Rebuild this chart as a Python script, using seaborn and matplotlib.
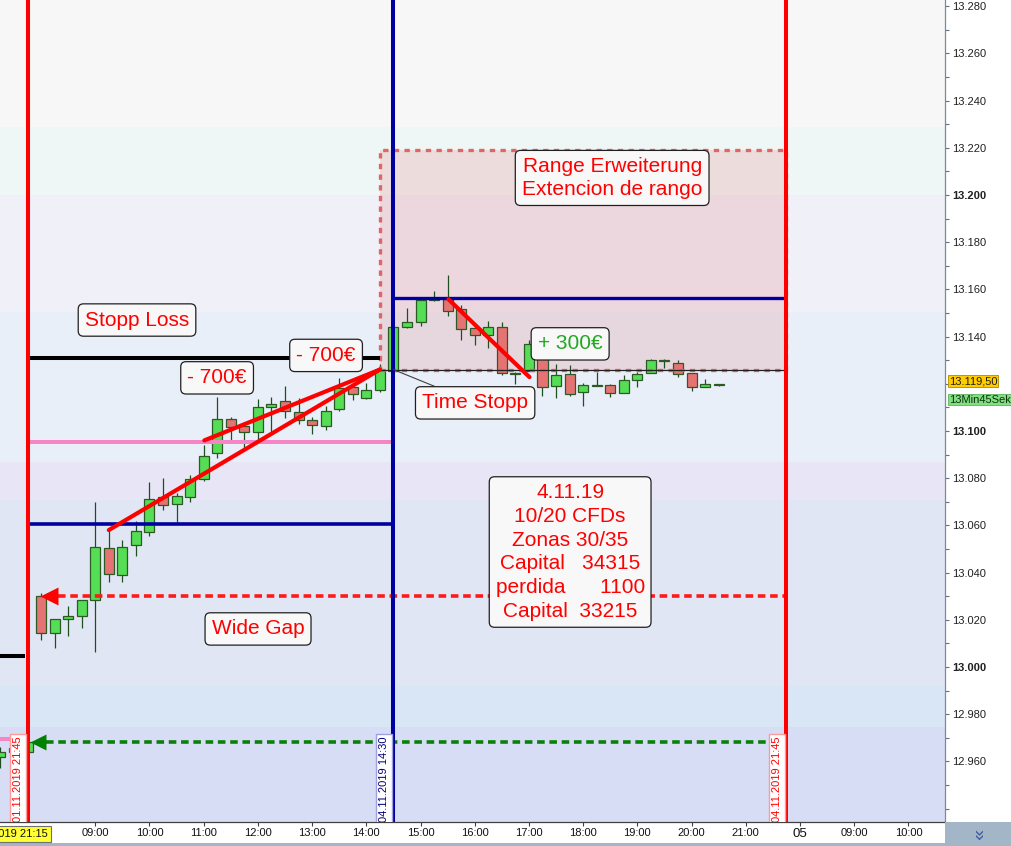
import numpy as np
import pandas as pd
import matplotlib
matplotlib.use('Agg')
import matplotlib.pyplot as plt
import matplotlib.transforms as mtransforms
from matplotlib.patches import Rectangle
import seaborn as sns

# bar index: 0 = 04.11.2019 08:00, one bar = 15 min, negative = 01.11 evening
barIndex = list(range(-3, 51))
opens = [12962, 12964, 12964,
         13030, 13014.5, 13020.5, 13021.5, 13028.5, 13050.5, 13039, 13051.5,
         13057, 13072, 13069, 13072, 13079.5, 13090.5, 13105, 13102,
         13099.5, 13110, 13112.5, 13108, 13104.5, 13102, 13109.5, 13118.5,
         13114, 13117.5, 13125.5, 13144, 13146, 13155.5, 13156, 13151.5,
         13143.5, 13140.5, 13144, 13124, 13125.5, 13136.5, 13119, 13124,
         13116.5, 13119, 13119.5, 13116, 13121.5, 13124.5, 13129.5, 13129,
         13124.5, 13118.5, 13120]
highs = [12966, 12967, 12968.5,
         13031.5, 13020.5, 13026, 13028.5, 13070, 13058.5, 13054, 13062,
         13078.5, 13080, 13073.5, 13081.5, 13094, 13114.5, 13106, 13104,
         13113.5, 13114.5, 13119, 13114, 13106, 13110.5, 13122.5, 13120,
         13120.5, 13128.5, 13144.5, 13152, 13156, 13159.5, 13166, 13153.5,
         13144, 13146.5, 13146, 13125, 13138.5, 13137, 13128.5, 13128,
         13120.5, 13125, 13120, 13123.5, 13125, 13130.5, 13130.5, 13130,
         13124.5, 13122, 13120]
lows = [12957, 12960, 12963.5,
        13011.5, 13008, 13013, 13016.5, 13006.5, 13036, 13036, 13047,
        13055.5, 13066.5, 13061.5, 13070, 13079, 13088.5, 13096, 13092.5,
        13096, 13099, 13105.5, 13103, 13098.5, 13100.5, 13108.5, 13113,
        13113.5, 13116.5, 13125.5, 13143.5, 13144.5, 13155, 13148.5, 13138.5,
        13136.5, 13135, 13123.5, 13120, 13125.5, 13115, 13114, 13115,
        13110.5, 13119, 13114.5, 13116, 13118.5, 13124.5, 13126.5, 13123,
        13117, 13118.5, 13119]
closes = [12964, 12965.5, 12968,
          13014.5, 13020.5, 13021.5, 13028.5, 13051, 13039.5, 13051, 13057.5,
          13071, 13068.5, 13072.5, 13079.5, 13089.5, 13105, 13101.5, 13099.5,
          13110, 13111.5, 13108.5, 13104.5, 13102.5, 13108.5, 13118, 13115.5,
          13117.5, 13126, 13144, 13146, 13155.5, 13156, 13151, 13143,
          13140.5, 13144, 13124.5, 13124.5, 13137, 13118.5, 13123.5, 13115.5,
          13119.5, 13119.5, 13116, 13121.5, 13124, 13130, 13130, 13124,
          13118.5, 13120, 13119.5]

# x axis labels
tickBars = [4, 8, 12, 16, 20, 24, 28, 32, 36, 40, 44, 48, 52, 56, 60, 64]
tickLabels = ['09:00', '10:00', '11:00', '12:00', '13:00', '14:00', '15:00',
              '16:00', '17:00', '18:00', '19:00', '20:00', '21:00', '05',
              '09:00', '10:00']

# session markers
prevCloseBar = -1
timeStopBar = 26
sessionEndBar = 55

# levels (index points)
stopLossLevel = 13131
pinkLevel = 13095.5
blueLevel = 13060.5
gapLevel = 13030
prevCloseLevel = 12968
prevBlackLevel = 13004.5
prevPinkLevel = 12969.5
timeStopLevel = 13126
timeStopHigh = 13156.5
rangeTop = 13219

# background value zones
zoneEdges = [12934.3, 12974.6, 12991.9, 13070.8, 13086.9, 13150.4, 13200, 13228.8, 13282.6]
zoneColors = ['#d8ddf6', '#d8e6f6', '#e1e6f5', '#e8e6f6', '#e8eff8', '#f0f0f9', '#eff7f6', '#f7f7f7']

# drawn trend lines (bar, price)
trendLines = [
    ([5.0, 25.0], [13058, 13126]),
    ([12.05, 25.0], [13096, 13126]),
    ([30.06, 36.04], [13155.8, 13122.8]),
]

lastPrice = 13119.5

sns.set_theme(style='white')
plt.rcParams['font.family'] = ['Liberation Sans', 'DejaVu Sans']

fig = plt.figure(figsize=(10.12, 8.46), dpi=100, facecolor='white')
ax = fig.add_axes([0, 24 / 846, 945 / 1012, 822 / 846])
ax.set_xlim(-3.03, 66.7)
ax.set_ylim(zoneEdges[0], zoneEdges[-1])

for lo, hi, col in zip(zoneEdges[:-1], zoneEdges[1:], zoneColors):
    ax.axhspan(lo, hi, color=col, lw=0, zorder=0)

# range extension box
ax.add_patch(Rectangle((25.0, timeStopLevel), sessionEndBar - 25.0, rangeTop - timeStopLevel,
                       facecolor=(0.88, 0.38, 0.38, 0.17), edgecolor='none', zorder=1))
ax.add_patch(Rectangle((25.0, timeStopLevel), sessionEndBar - 25.0, rangeTop - timeStopLevel,
                       facecolor='none', edgecolor='#e06666', lw=2.4, ls=(0, (1.6, 1.6)), zorder=3))

# candles
df = pd.DataFrame({'bar': barIndex, 'open': opens, 'high': highs, 'low': lows, 'close': closes})
up = df['close'] >= df['open']
bodyLow = df[['open', 'close']].min(axis=1)
bodyH = (df['close'] - df['open']).abs().clip(lower=0.6)
ax.vlines(df['bar'], df['low'], df['high'], color='#1f4f1f', lw=0.9, zorder=2)
ax.bar(df['bar'], bodyH, bottom=bodyLow, width=0.74,
       color=np.where(up, '#55dd55', '#e67373'), edgecolor='#2b5a25', lw=0.9, zorder=2)

# horizontal levels
ax.hlines(stopLossLevel, prevCloseBar, 25.0, color='black', lw=2.9, zorder=3)
ax.hlines(pinkLevel, prevCloseBar, timeStopBar, color='#f585c5', lw=2.9, zorder=3)
ax.hlines(blueLevel, prevCloseBar, timeStopBar, color='#0000a0', lw=2.6, zorder=3)
ax.hlines(timeStopHigh, timeStopBar, sessionEndBar, color='#0000a0', lw=2.4, zorder=3)
ax.hlines(timeStopLevel, 25.0, sessionEndBar, color='#202020', lw=0.9, zorder=3)
ax.hlines(prevBlackLevel, -3.1, -1.2, color='black', lw=2.9, zorder=3)
ax.hlines(prevPinkLevel, -3.1, -2.3, color='#f585c5', lw=2.9, zorder=3)
ax.hlines(gapLevel, 1.25, sessionEndBar, color='#ff1a1a', lw=2.6, ls=(0, (2.1, 1.3)), zorder=3)
ax.hlines(prevCloseLevel, 0.35, sessionEndBar, color='#0a800a', lw=2.6, ls=(0, (2.1, 1.3)), zorder=3)
ax.plot(0.6, gapLevel, marker='<', ms=13, color='#ff0000', mec='none', zorder=4)
ax.plot(-0.2, prevCloseLevel, marker='<', ms=12, color='#008000', mec='none', zorder=4)

# vertical session lines
ax.axvline(prevCloseBar, color='#ff0000', lw=2.9, zorder=4)
ax.axvline(timeStopBar, color='#0000a0', lw=2.9, zorder=4)
ax.axvline(sessionEndBar, color='#ff0000', lw=2.9, zorder=4)

for xs, ys in trendLines:
    sns.lineplot(x=xs, y=ys, ax=ax, color='#ff0000', lw=3, sort=False, zorder=5)

box = dict(boxstyle='round,pad=0.32,rounding_size=0.25', facecolor='#f8f8f8', edgecolor='#202020', lw=0.9)
ax.text(7.08, 13147.0, 'Stopp Loss', color='#ff0000', fontsize=15, ha='center', va='center', bbox=box, zorder=6)
ax.text(12.99, 13122.5, '- 700€', color='#ff0000', fontsize=15, ha='center', va='center', bbox=box, zorder=6)
ax.text(21.03, 13132.0, '- 700€', color='#ff0000', fontsize=15, ha='center', va='center', bbox=box, zorder=6)
ax.text(39.04, 13136.9, '+ 300€', color='#22a822', fontsize=15, ha='center', va='center', bbox=box, zorder=6)
ax.text(42.14, 13207.2, 'Range Erweiterung\nExtencion de rango', color='#ff0000', fontsize=15,
        ha='center', va='center', linespacing=1.25, bbox=box, zorder=6)
ax.text(16.01, 13016.1, 'Wide Gap', color='#ff0000', fontsize=15, ha='center', va='center', bbox=box, zorder=6)
ax.text(39.04, 13048.7, '4.11.19\n10/20 CFDs\nZonas 30/35\nCapital   34315\nperdida      1100\nCapital  33215',
        color='#ff0000', fontsize=15, ha='center', va='center', multialignment='center',
        linespacing=1.32, bbox=dict(boxstyle='round,pad=0.3,rounding_size=0.25', facecolor='#f8f8f8',
                                    edgecolor='#202020', lw=0.9), zorder=6)
ax.annotate('Time Stopp', xy=(timeStopBar, timeStopLevel), xytext=(32.03, 13111.9), color='#ff0000',
            fontsize=15, ha='center', va='center', bbox=box, zorder=6,
            arrowprops=dict(arrowstyle='-', color='#404040', lw=0.8, shrinkA=0, shrinkB=0))

# vertical date labels at the bottom
xDataYAxes = mtransforms.blended_transform_factory(ax.transData, ax.transAxes)
for bar, label, tc, ec in [(prevCloseBar, '01.11.2019 21:45', '#ff0000', '#ff9a9a'),
                           (timeStopBar, '04.11.2019 14:30', '#000080', '#a0a0dd'),
                           (sessionEndBar, '04.11.2019 21:45', '#ff0000', '#ff9a9a')]:
    ax.text(bar - 0.7, 0.0, label, rotation=90, color=tc, fontsize=8, ha='center', va='bottom',
            transform=xDataYAxes, clip_on=True, zorder=7,
            bbox=dict(boxstyle='square,pad=0.25', facecolor='white', edgecolor=ec, lw=1))

# axes styling (the 13.120 label sits under the last price marker, so it stays blank)
yTicks = np.arange(12960, 13281, 20)
ax.yaxis.tick_right()
ax.set_yticks(yTicks)
ax.set_yticks(np.arange(12940, 13281, 10), minor=True)
ax.set_yticklabels(['' if v == 13120 else f'{v / 1000:.3f}' for v in yTicks])
for lbl, v in zip(ax.get_yticklabels(), yTicks):
    if v % 100 == 0:
        lbl.set_fontweight('bold')
        lbl.set_fontsize(9)
ax.set_xticks(tickBars)
ax.set_xticklabels(tickLabels)
ax.tick_params(axis='y', which='major', right=True, length=3, width=0.8, color='#607080',
               labelsize=8, pad=2, labelcolor='#202020')
ax.tick_params(axis='y', which='minor', right=True, length=3, width=0.8, color='#607080')
ax.tick_params(axis='x', bottom=True, length=3, width=0.8, color='#404040', labelsize=8, pad=1,
               labelcolor='#101010')
for lbl in ax.get_xticklabels():
    if lbl.get_text() == '05':
        lbl.set_fontsize(9.5)
ax.spines['top'].set_visible(False)
ax.spines['left'].set_visible(False)
ax.spines['right'].set_color('#7a8a9a')
ax.spines['right'].set_linewidth(0.9)
ax.spines['bottom'].set_color('#404040')
ax.spines['bottom'].set_linewidth(0.9)
ax.grid(False)

# price and timer labels on the scale
yAxesTrans = mtransforms.blended_transform_factory(ax.transAxes, ax.transData)
ax.text(1.004, lastPrice + 1.5, f'{lastPrice:,.2f}'.replace(',', 'X').replace('.', ',').replace('X', '.'),
        transform=yAxesTrans, fontsize=8, ha='left', va='center', color='#202020', clip_on=False,
        bbox=dict(boxstyle='square,pad=0.08', facecolor='#ffcc00', edgecolor='#b08a00', lw=0.6))
ax.text(1.004, lastPrice - 6.2, '13Min45Sek', transform=yAxesTrans, fontsize=8, ha='left', va='center',
        color='#103010', clip_on=False,
        bbox=dict(boxstyle='square,pad=0.08', facecolor='#80e080', edgecolor='#60b060', lw=0.6))

# crosshair time box and corner button
fig.text(48 / 1012, 12 / 846, '01.11.2019 21:15', fontsize=8, ha='right', va='center', color='#101010',
         bbox=dict(boxstyle='square,pad=0.25', facecolor='#ffff33', edgecolor='#707070', lw=0.8))
fig.patches.append(Rectangle((945 / 1012, 0), 67 / 1012, 24 / 846, transform=fig.transFigure,
                             facecolor='#a3b6c8', edgecolor='none'))
fig.patches.append(Rectangle((0, 0), 1, 3 / 846, transform=fig.transFigure,
                             facecolor='#a3b6c8', edgecolor='none'))
fig.text(978 / 1012, 12 / 846, '»', rotation=-90, fontsize=14, ha='center', va='center', color='#3a5a9a')

fig.savefig('out.png', dpi=100, facecolor='white')
